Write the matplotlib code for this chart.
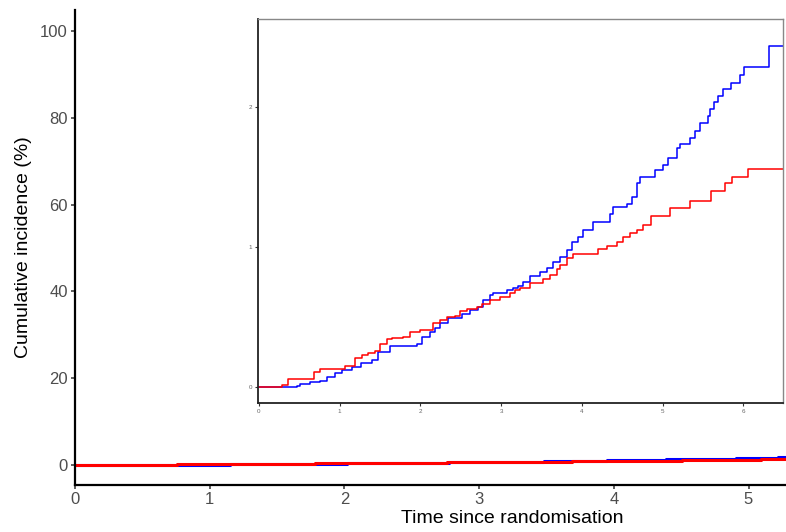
import matplotlib
matplotlib.use("Agg")
import matplotlib.pyplot as plt

plt.rcParams['font.family'] = ['Liberation Sans', 'DejaVu Sans']

# Cumulative incidence (%) step data
blue_t = [0, 0.47, 0.51, 0.63, 0.76, 0.84, 0.94, 1.03, 1.15, 1.26, 1.40, 1.47, 1.62, 1.96, 2.02,
          2.12, 2.18, 2.24, 2.34, 2.52, 2.61, 2.71, 2.78, 2.86, 2.90, 3.07, 3.15, 3.21, 3.27,
          3.36, 3.48, 3.57, 3.64, 3.73, 3.82, 3.88, 3.95, 4.01, 4.14, 4.35, 4.39, 4.56, 4.62,
          4.68, 4.72, 4.91, 5.00, 5.06, 5.18, 5.22, 5.34, 5.40, 5.46, 5.56, 5.59, 5.63, 5.68,
          5.75, 5.85, 5.96, 6.01, 6.32, 6.49]
blue_v = [0, 0.007, 0.02, 0.036, 0.043, 0.071, 0.10, 0.12, 0.14, 0.17, 0.19, 0.25, 0.29, 0.31, 0.36,
          0.39, 0.42, 0.46, 0.49, 0.52, 0.55, 0.57, 0.62, 0.66, 0.67, 0.69, 0.71, 0.72, 0.75,
          0.79, 0.82, 0.85, 0.89, 0.93, 0.98, 1.04, 1.07, 1.12, 1.18, 1.24, 1.29, 1.31, 1.36,
          1.46, 1.50, 1.55, 1.59, 1.64, 1.71, 1.74, 1.78, 1.83, 1.89, 1.94, 1.99, 2.04, 2.08,
          2.13, 2.17, 2.23, 2.29, 2.44, 2.44]

red_t = [0, 0.29, 0.36, 0.68, 0.76, 1.07, 1.19, 1.28, 1.35, 1.44, 1.50, 1.59, 1.65, 1.78, 1.87,
         2.00, 2.16, 2.24, 2.33, 2.43, 2.49, 2.58, 2.70, 2.76, 2.86, 2.99, 3.11, 3.17, 3.23,
         3.36, 3.52, 3.61, 3.69, 3.73, 3.82, 3.89, 4.20, 4.31, 4.44, 4.51, 4.60, 4.68, 4.76,
         4.85, 5.09, 5.34, 5.60, 5.77, 5.86, 6.06, 6.49]
red_v = [0, 0.014, 0.057, 0.11, 0.13, 0.15, 0.21, 0.23, 0.24, 0.26, 0.31, 0.34, 0.35, 0.36, 0.39,
         0.41, 0.46, 0.48, 0.50, 0.51, 0.54, 0.56, 0.57, 0.59, 0.62, 0.64, 0.67, 0.69, 0.71,
         0.74, 0.77, 0.80, 0.84, 0.87, 0.92, 0.95, 0.99, 1.01, 1.04, 1.07, 1.10, 1.12, 1.16,
         1.22, 1.28, 1.33, 1.40, 1.46, 1.50, 1.56, 1.56]

main_xticks = [0, 1, 2, 3, 4, 5]
main_yticks = [0, 20, 40, 60, 80, 100]
inset_xticks = [0, 1, 2, 3, 4, 5, 6]
inset_yticks = [0, 1, 2]

W, H = 786, 532
fig = plt.figure(figsize=(W / 100, H / 100), dpi=100)

# main axes
ax = fig.add_axes([75 / W, (H - 485) / H, (W - 75) / W, (485 - 10) / H])
ax.step(blue_t, blue_v, where='post', color='#0000ff', lw=2.2)
ax.step(red_t, red_v, where='post', color='#ff0000', lw=2.2)
ax.set_xlim(0, (W - 75) / 134.7)
ax.set_ylim(-4.6, 104.8)
ax.set_xticks(main_xticks)
ax.set_yticks(main_yticks)
for s in ['top', 'right']:
    ax.spines[s].set_visible(False)
for s in ['left', 'bottom']:
    ax.spines[s].set_linewidth(1.6)
    ax.spines[s].set_color('black')
ax.tick_params(axis='both', colors='#333333', labelcolor='#4d4d4d', labelsize=12,
               length=3, width=1.1, pad=2.2)
ax.set_xlabel('Time since randomisation', fontsize=14, color='black')
ax.set_ylabel('Cumulative incidence (%)', fontsize=14, color='black')
ax.xaxis.set_label_coords((512 - 75) / (W - 75), -0.052)
ax.yaxis.set_label_coords(-0.061, 0.5)

# inset axes
ins = fig.add_axes([258 / W, (H - 403) / H, (783 - 258) / W, (403 - 19) / H])
ins.step(blue_t, blue_v, where='post', color='#0000ff', lw=1.1)
ins.step(red_t, red_v, where='post', color='#ff0000', lw=1.1)
ins.set_xlim(-0.012, 6.49)
ins.set_ylim(-0.114, 2.63)
ins.set_xticks(inset_xticks)
ins.set_yticks(inset_yticks)
for s in ['top', 'right']:
    ins.spines[s].set_color('#888888')
    ins.spines[s].set_linewidth(1.0)
for s in ['left', 'bottom']:
    ins.spines[s].set_color('#222222')
    ins.spines[s].set_linewidth(1.3)
ins.tick_params(axis='both', colors='#333333', labelcolor='#666666', labelsize=4.5,
                length=2, width=0.8, pad=2)

fig.savefig('out.png', dpi=100)
